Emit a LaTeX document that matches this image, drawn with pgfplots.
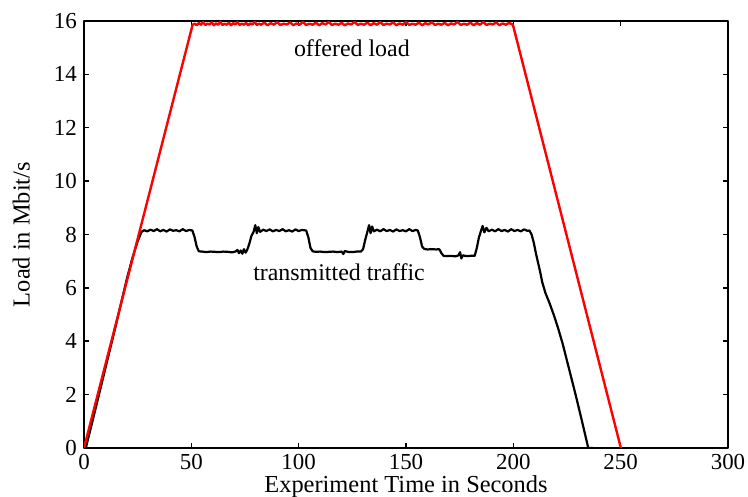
\documentclass[border=0pt]{standalone}
\usepackage{fontspec}
\setmainfont{Liberation Serif}
\usepackage{pgfplots}
\pgfplotsset{compat=1.18}
\begin{document}
\fontsize{24}{28}\selectfont
\begin{tikzpicture}
\begin{axis}[
scale only axis,
width=644bp,
height=427bp,
xmin=0, xmax=300,
ymin=0, ymax=16,
xtick={0,50,100,150,200,250,300},
xticklabels={0,50,100,150,200,250,300},
ytick={0,2,4,6,8,10,12,14,16},
yticklabels={0,2,4,6,8,10,12,14,16},
tick align=inside,
major tick length=5bp,
every tick/.style={black, line width=1.5bp},
axis line style={line width=2.2bp},
ticklabel style={font=\rmfamily\fontsize{23}{27}\selectfont},
xticklabel style={yshift=2bp},
yticklabel style={xshift=1bp},
label style={font=\rmfamily\fontsize{24.5}{28}\selectfont},
xlabel={Experiment Time in Seconds},
ylabel={Load in Mbit/s},
xlabel style={yshift=10bp},
ylabel style={yshift=8bp},
line join=round,
]
% transmitted traffic
\addplot[black, line width=2.2bp] coordinates {
(0,0) (1,0.05) (5,1.35) (10,3.0) (15,4.65) (20,6.35) (22.5,7.1) (25,7.75) (26.8,8.1)
(28,8.16) (29.5,8.12) (31,8.18) (32.5,8.13) (34,8.2) (35.5,8.12) (37,8.17) (38.5,8.11)
(40,8.19) (41.5,8.14) (43,8.16) (44.5,8.12) (46,8.2) (47.5,8.13) (49,8.17) (50.5,8.15)
(51.5,7.9) (52.5,7.55) (53.5,7.37) (55,7.36) (57,7.34) (59,7.36) (61,7.35) (63,7.34)
(65,7.36) (67,7.35) (69,7.33) (70.5,7.36) (71.5,7.42) (72.2,7.3) (73,7.4) (73.8,7.28)
(74.5,7.45) (75.3,7.32) (76,7.42) (77,7.65) (78,7.95) (79,8.1) (79.8,8.35) (80.5,8.05)
(81.2,8.28) (82,8.1) (83.5,8.18) (85,8.13) (86.5,8.19) (88,8.12) (89.5,8.17) (91,8.13)
(92.5,8.2) (94,8.12) (95.5,8.16) (97,8.11) (98.5,8.19) (100,8.13) (101.5,8.17) (103.5,8.15)
(104.5,7.9) (105.5,7.5) (106.5,7.37) (108,7.35) (110,7.36) (112,7.34) (114,7.35) (116,7.36)
(118,7.34) (120,7.36) (120.8,7.27) (121.5,7.38) (123,7.35) (125,7.34) (127,7.36) (129,7.36)
(130,7.45) (131,7.8) (132,8.1) (132.8,8.35) (133.5,8.05) (134.2,8.3) (135,8.12) (136.5,8.18)
(138,8.12) (139.5,8.2) (141,8.13) (142.5,8.17) (144,8.11) (145.5,8.19) (147,8.13) (148.5,8.16)
(150,8.12) (151.5,8.2) (153,8.13) (154.5,8.17) (155.5,8.15)
(156.5,7.9) (157.5,7.55) (158.5,7.46) (160,7.44) (162,7.45) (164,7.44) (165.5,7.45)
(166.5,7.3) (167.5,7.2) (169,7.19) (171,7.2) (173,7.18) (174.5,7.22) (175.2,7.34) (175.8,7.1)
(176.5,7.22) (178,7.19) (180,7.2) (182,7.2) (183,7.5) (184,7.9) (185,8.15) (185.7,8.32)
(186.5,8.08) (187.5,8.25) (188.5,8.12) (190,8.18) (191.5,8.12) (193,8.2) (194.5,8.13)
(196,8.17) (197.5,8.11) (199,8.2) (200.5,8.13) (202,8.17) (203.5,8.12) (205,8.19) (206.5,8.14) (207.5,8.15)
(208.5,8.0) (209.5,7.7) (210.5,7.3) (211.5,6.95) (212.5,6.6) (213.5,6.2) (215,5.8) (217,5.4)
(219,4.95) (221,4.45) (223,3.9) (226,2.95) (229,2.0) (232,1.0) (234.9,0) (237,0)
};
% offered load
\addplot[red, line width=2.4bp] coordinates {
(0,0) (50.6,15.86)
(51.5,15.9) (52.5,15.84) (53.5,15.93) (54.5,15.86) (55.5,15.96) (56.5,15.85) (57.5,15.9) (58.5,15.87)
(59.5,15.95) (60.5,15.84) (61.5,15.91) (62.5,15.86) (63.5,15.97) (64.5,15.85) (65.5,15.9) (66.5,15.86)
(67.5,15.94) (68.5,15.84) (69.5,15.92) (70.5,15.87) (71.5,15.96) (72.5,15.85) (73.5,15.9) (74.5,15.86)
(75.5,15.93) (76.5,15.84) (77.5,15.91) (78.5,15.87) (79.5,15.97) (80.5,15.85) (81.5,15.9) (82.5,15.86)
(84,15.94) (85.5,15.84) (87,15.92) (88.5,15.86) (90,15.96) (91.5,15.85) (93,15.9) (94.5,15.87)
(96,15.95) (97.5,15.84) (99,15.91) (100.5,15.86) (102,15.97) (103.5,15.85) (105,15.9) (106.5,15.86)
(108,15.94) (109.5,15.84) (111,15.92) (112.5,15.87) (114,15.96) (115.5,15.85) (117,15.9) (118.5,15.86)
(120,15.93) (121.5,15.84) (123,15.91) (124.5,15.87) (126,15.97) (127.5,15.85) (129,15.9) (130.5,15.86)
(132,15.94) (133.5,15.84) (135,15.92) (136.5,15.86) (138,15.96) (139.5,15.85) (141,15.9) (142.5,15.87)
(144,15.95) (145.5,15.84) (147,15.91) (148.5,15.86) (150,15.97) (151.5,15.85) (153,15.9) (154.5,15.86)
(156,15.94) (157.5,15.84) (159,15.92) (160.5,15.87) (162,15.96) (163.5,15.85) (165,15.9) (166.5,15.86)
(168,15.93) (169.5,15.84) (171,15.91) (172.5,15.87) (174,15.97) (175.5,15.85) (177,15.9) (178.5,15.86)
(180,15.94) (181.5,15.84) (183,15.92) (184.5,15.86) (186,15.96) (187.5,15.85) (189,15.9) (190.5,15.87)
(192,15.95) (193.5,15.84) (195,15.91) (196.5,15.86) (198,15.93) (199.8,15.86)
(250.1,0)
};
\node[font=\rmfamily\fontsize{24}{28}\selectfont] at (axis cs:124.8,14.98) {offered load};
\node[font=\rmfamily\fontsize{24}{28}\selectfont] at (axis cs:118.8,6.59) {transmitted traffic};
\end{axis}
\pgfresetboundingbox
\useasboundingbox ([xshift=-84bp,yshift=-49bp]current axis.south west) rectangle ([xshift=20bp,yshift=21bp]current axis.north east);
\end{tikzpicture}
\end{document}
